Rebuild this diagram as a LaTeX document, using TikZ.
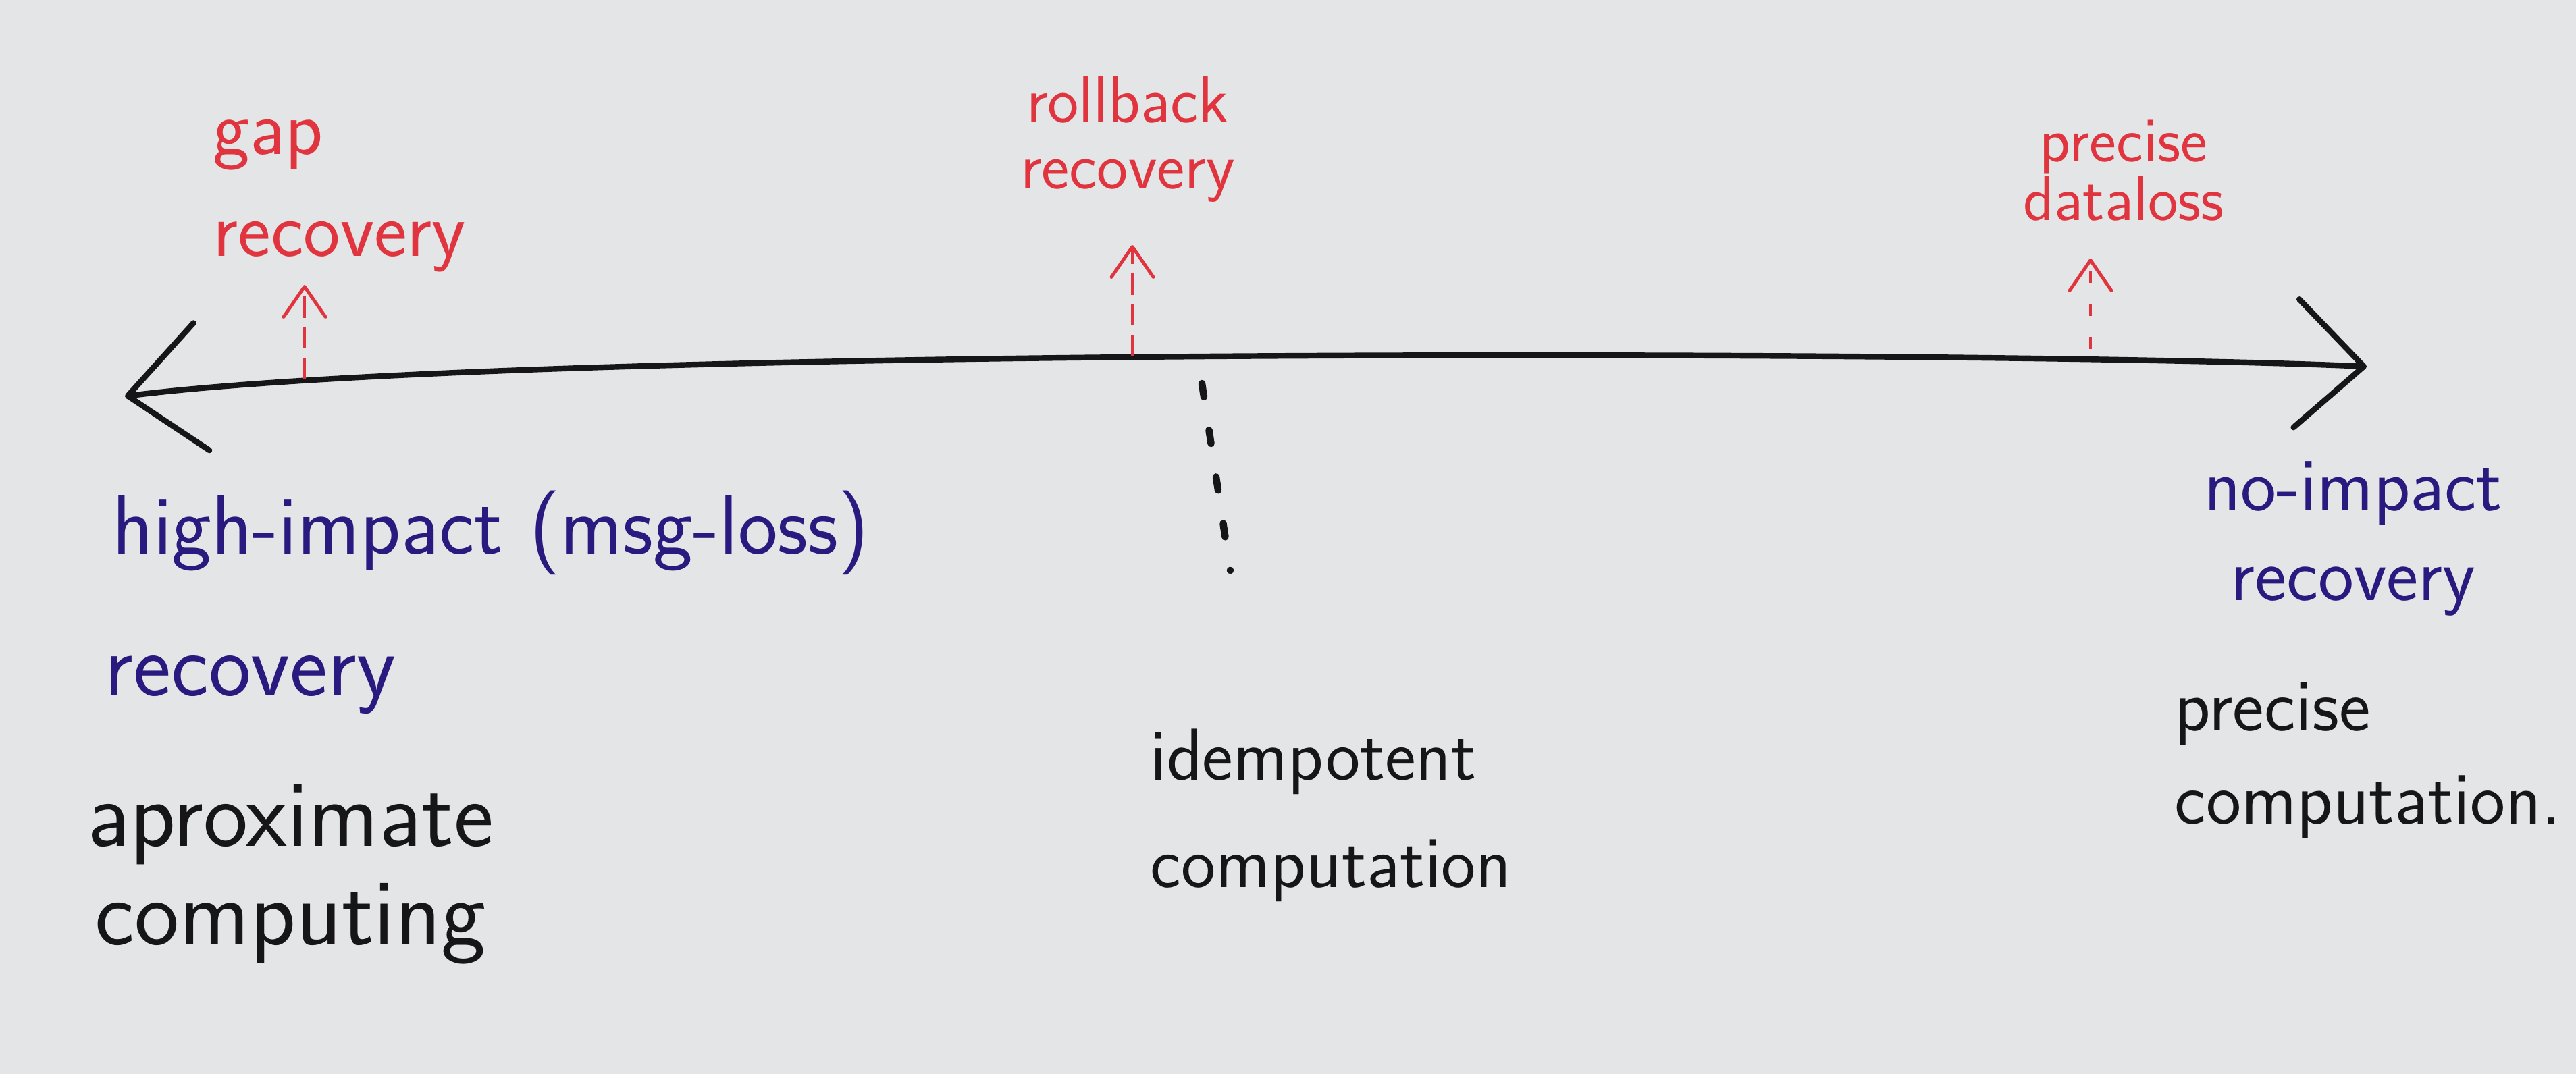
\documentclass[tikz,border=0pt]{standalone}
\usetikzlibrary{arrows.meta}

\definecolor{paper}{RGB}{228,229,231}
\definecolor{inkred}{RGB}{224,52,62}
\definecolor{inkblue}{RGB}{42,26,128}
\definecolor{inkblack}{RGB}{22,22,24}
\newcommand{\handfont}[2]{\sffamily\fontsize{#1}{#2}\selectfont}

\tikzset{
  axisline/.style={inkblack, line width=2.4pt, line cap=round,
    arrows={Straight Barb[round,length=11mm,width=19mm]-Straight Barb[round,length=10mm,width=19mm]}},
  uparrow/.style={inkred, line width=1.4pt,
    -{Straight Barb[round,length=4.5mm,width=6.2mm]}, dash pattern=on 9pt off 4pt},
  dotline/.style={inkblack, line width=3pt, line cap=round, dash pattern=on 0.2cm off 0.5cm},
  redtxt/.style={inkred, inner sep=0pt},
  bluetxt/.style={inkblue, inner sep=0pt},
  blacktxt/.style={inkblack, inner sep=0pt},
}

\begin{document}
\begin{tikzpicture}
   \fill[paper] (0,0) rectangle (38.15,-15.91);
   \useasboundingbox (0,0) rectangle (38.15,-15.91);

   % the scale
   \coordinate (lt) at (1.85,-5.87);
   \coordinate (rt) at (35.05,-5.43);
   \draw[axisline] (lt) .. controls (8,-5.1) and (30,-5.2) .. (rt);

   % kinds of recovery, on top (base = last line)
   \node[redtxt, anchor=base west, align=left, font=\handfont{33}{43}] (gap) at (3.15,-3.80) {gap\\recovery};
   \node[redtxt, anchor=base, align=center, font=\handfont{28}{28}] (roll) at (16.70,-2.80) {rollback\\recovery};
   \node[redtxt, anchor=base, align=center, font=\handfont{27}{25}] (loss) at (31.45,-3.27) {precise\\dataloss};

   \coordinate (gapfoot) at (4.51,-5.62);
   \coordinate (gaptip) at (4.51,-4.22);
   \coordinate (rollfoot) at (16.77,-5.28);
   \coordinate (rolltip) at (16.77,-3.63);
   \coordinate (lossfoot) at (30.96,-5.17);
   \coordinate (losstip) at (30.96,-3.83);
   \draw[uparrow] (gapfoot) -- (gaptip);
   \draw[uparrow] (rollfoot) -- (rolltip);
   \draw[uparrow, dash pattern=on 5pt off 9pt] (lossfoot) -- (losstip);

   % ends of the scale
   \node[bluetxt, anchor=base west, font=\handfont{35.5}{40}] (high) at (1.66,-8.20) {high-impact (msg-loss)};
   \node[bluetxt, anchor=base west, font=\handfont{38}{40}] (highrec) at (1.54,-10.30) {recovery};
   \node[bluetxt, anchor=base, align=center, font=\handfont{32}{38}] (noimp) at (34.85,-8.90) {no-impact\\recovery};

   % computations
   \node[blacktxt, anchor=base, align=center, font=\handfont{40}{41.5}] (approx) at (4.30,-13.99) {aproximate\\computing};
   \node[blacktxt, anchor=base west, align=left, font=\handfont{31}{45}] (idem) at (17.03,-13.14) {idempotent\\computation};
   \node[blacktxt, anchor=base west, align=left, font=\handfont{31.5}{39}] (prec) at (32.20,-12.20) {precise\\computation.};

   \coordinate (dottop) at (17.80,-5.68);
   \coordinate (dotbot) at (18.22,-8.45);
   \draw[dotline] (dottop) -- (dotbot);
\end{tikzpicture}
\end{document}
